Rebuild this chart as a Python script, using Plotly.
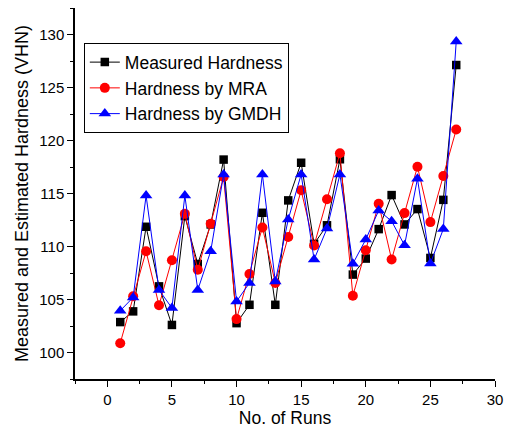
import plotly.graph_objects as go

runs = list(range(1, 28))
measured = [102.87, 103.88, 111.86, 106.24, 102.6, 112.87, 108.35, 112.08, 118.2,
            102.77, 104.5, 113.18, 104.5, 114.35, 117.9, 110.25, 112.0, 118.23, 107.35,
            108.86, 111.64, 114.85, 112.08, 113.53, 108.92, 114.4, 127.12]
mra = [100.88, 105.3, 109.55, 104.45, 108.7, 113.08, 107.8, 112.14, 116.56,
       103.15, 107.4, 111.8, 106.56, 110.9, 115.3, 110.1, 114.45, 118.8, 105.36,
       109.65, 114.03, 108.77, 113.15, 117.53, 112.3, 116.65, 121.03]
gmdh = [103.94, 105.2, 114.8, 105.9, 104.2, 114.8, 105.9, 109.55, 116.8,
        104.82, 106.56, 116.8, 106.7, 112.55, 116.8, 108.77, 111.7, 116.8, 108.37,
        110.66, 113.4, 112.39, 110.12, 116.4, 108.39, 111.64, 129.33]

FONT = "Liberation Sans, Arial, sans-serif"

fig = go.Figure()
fig.add_trace(go.Scatter(x=runs, y=measured, mode="lines+markers", name="Measured Hardness",
                         line=dict(color="black", width=1),
                         marker=dict(symbol="square", size=8.5, color="black")))
fig.add_trace(go.Scatter(x=runs, y=mra, mode="lines+markers", name="Hardness by MRA",
                         line=dict(color="red", width=1),
                         marker=dict(symbol="circle", size=10, color="red")))
fig.add_trace(go.Scatter(x=runs, y=gmdh, mode="lines+markers", name="Hardness by GMDH",
                         line=dict(color="blue", width=1),
                         marker=dict(symbol="triangle-up", size=11, color="blue")))

axis_common = dict(showline=True, linecolor="black", linewidth=1.5, mirror=False,
                   showgrid=False, zeroline=False, ticks="outside", ticklen=6,
                   tickcolor="black", tickwidth=1,
                   tickfont=dict(family=FONT, size=15, color="black"))

fig.update_layout(
    width=511, height=433,
    margin=dict(l=75, r=13, t=8, b=54),
    paper_bgcolor="white", plot_bgcolor="white",
    font=dict(family=FONT, color="black"),
    xaxis=dict(range=[-2.5, 30], dtick=5, tick0=0,
               minor=dict(dtick=2.5, tick0=0, ticks="outside", ticklen=3, tickcolor="black"),
               title=dict(text="No. of Runs", font=dict(family=FONT, size=17.5), standoff=4),
               **axis_common),
    yaxis=dict(range=[97.5, 132.5], dtick=5, tick0=100,
               minor=dict(dtick=2.5, tick0=100, ticks="outside", ticklen=3, tickcolor="black"),
               title=dict(text="Measured and Estimated Hardness (VHN)",
                          font=dict(family=FONT, size=18), standoff=6),
               **axis_common),
    legend=dict(x=0.021, y=0.905, xanchor="left", yanchor="top",
                bordercolor="black", borderwidth=1, bgcolor="white",
                font=dict(family=FONT, size=17.5, color="black"),
                tracegroupgap=0, itemwidth=30),
    showlegend=True,
)

fig.write_html("out.html")
